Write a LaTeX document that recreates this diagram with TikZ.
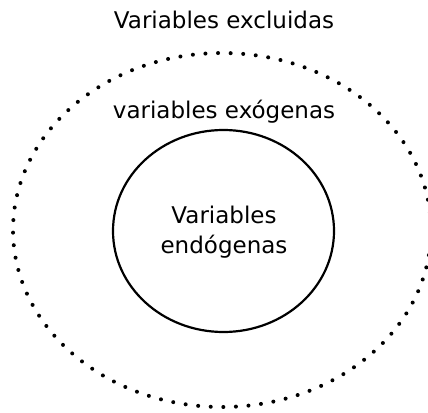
\documentclass[tikz,border=0pt]{standalone}
\usepackage{fontspec}
\setmainfont{DejaVu Sans}
\usepackage{tikz}

\begin{document}
\begin{tikzpicture}[x=1pt,y=-1pt, every node/.style={font=\fontsize{23}{30}\selectfont}]
    \useasboundingbox (0,0) rectangle (428,412);
    \draw [line width=4pt, line cap=round, dash pattern=on 0pt off 12.6pt] (222,230) ellipse [x radius=209, y radius=177];
    \draw [line width=2.2pt] (223.5,231) ellipse [x radius=110.5, y radius=101];
    \node (excl) at (224,20) {Variables excluidas};
    \node (exog) at (224,112) {variables exógenas};
    \node (endo) [align=center] at (224,232) {Variables\\endógenas};
\end{tikzpicture}
\end{document}
